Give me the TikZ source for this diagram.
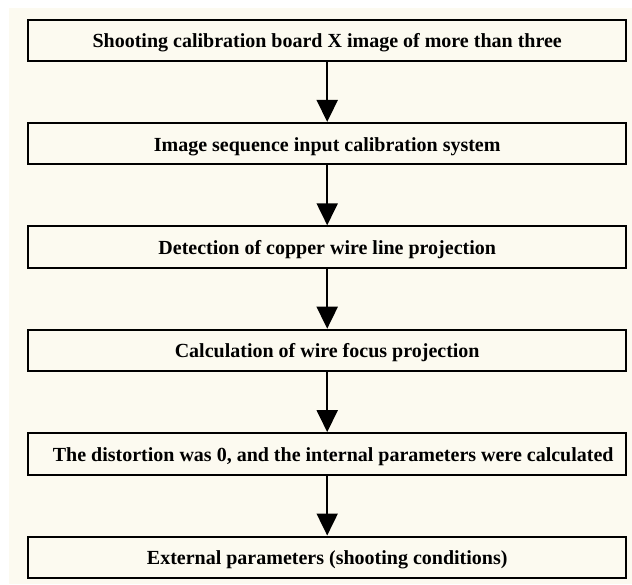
\documentclass[tikz,border=0pt]{standalone}
\usepackage{fontspec}
\setmainfont{Liberation Serif}
\usetikzlibrary{arrows.meta}
\definecolor{bg}{RGB}{252,250,240}
\begin{document}
\begin{tikzpicture}[x=1pt,y=-1pt,
  stepbox/.style={draw=black, line width=2pt, fill=bg, minimum width=598pt, minimum height=41.5pt, inner sep=0pt,
    text height=16pt, text depth=1.1pt, font=\fontsize{20pt}{24pt}\selectfont\bfseries},
  flow/.style={line width=2pt, -{Triangle[length=22pt,width=21pt]}}]
\useasboundingbox (0,0) rectangle (632,584);
\fill[white] (0,0) rectangle (632,584);
\fill[bg] (9,8) rectangle (632,584);
\node[stepbox] (b1) at (327.2, 40.25) {Shooting calibration board X image of more than three};
\node[stepbox] (b2) at (327.2, 143.65) {Image sequence input calibration system};
\node[stepbox] (b3) at (327.2, 247.05) {Detection of copper wire line projection};
\node[stepbox] (b4) at (327.2, 350.45) {Calculation of wire focus projection};
\node[stepbox] (b5) at (327.2, 453.85) {\hspace*{12pt}The distortion was 0, and the internal parameters were calculated};
\node[stepbox] (b6) at (327.2, 557.25) {External parameters (shooting conditions)};
\draw[flow] (b1.south) -- (b2.north);
\draw[flow] (b2.south) -- (b3.north);
\draw[flow] (b3.south) -- (b4.north);
\draw[flow] (b4.south) -- (b5.north);
\draw[flow] (b5.south) -- (b6.north);
\end{tikzpicture}
\end{document}
